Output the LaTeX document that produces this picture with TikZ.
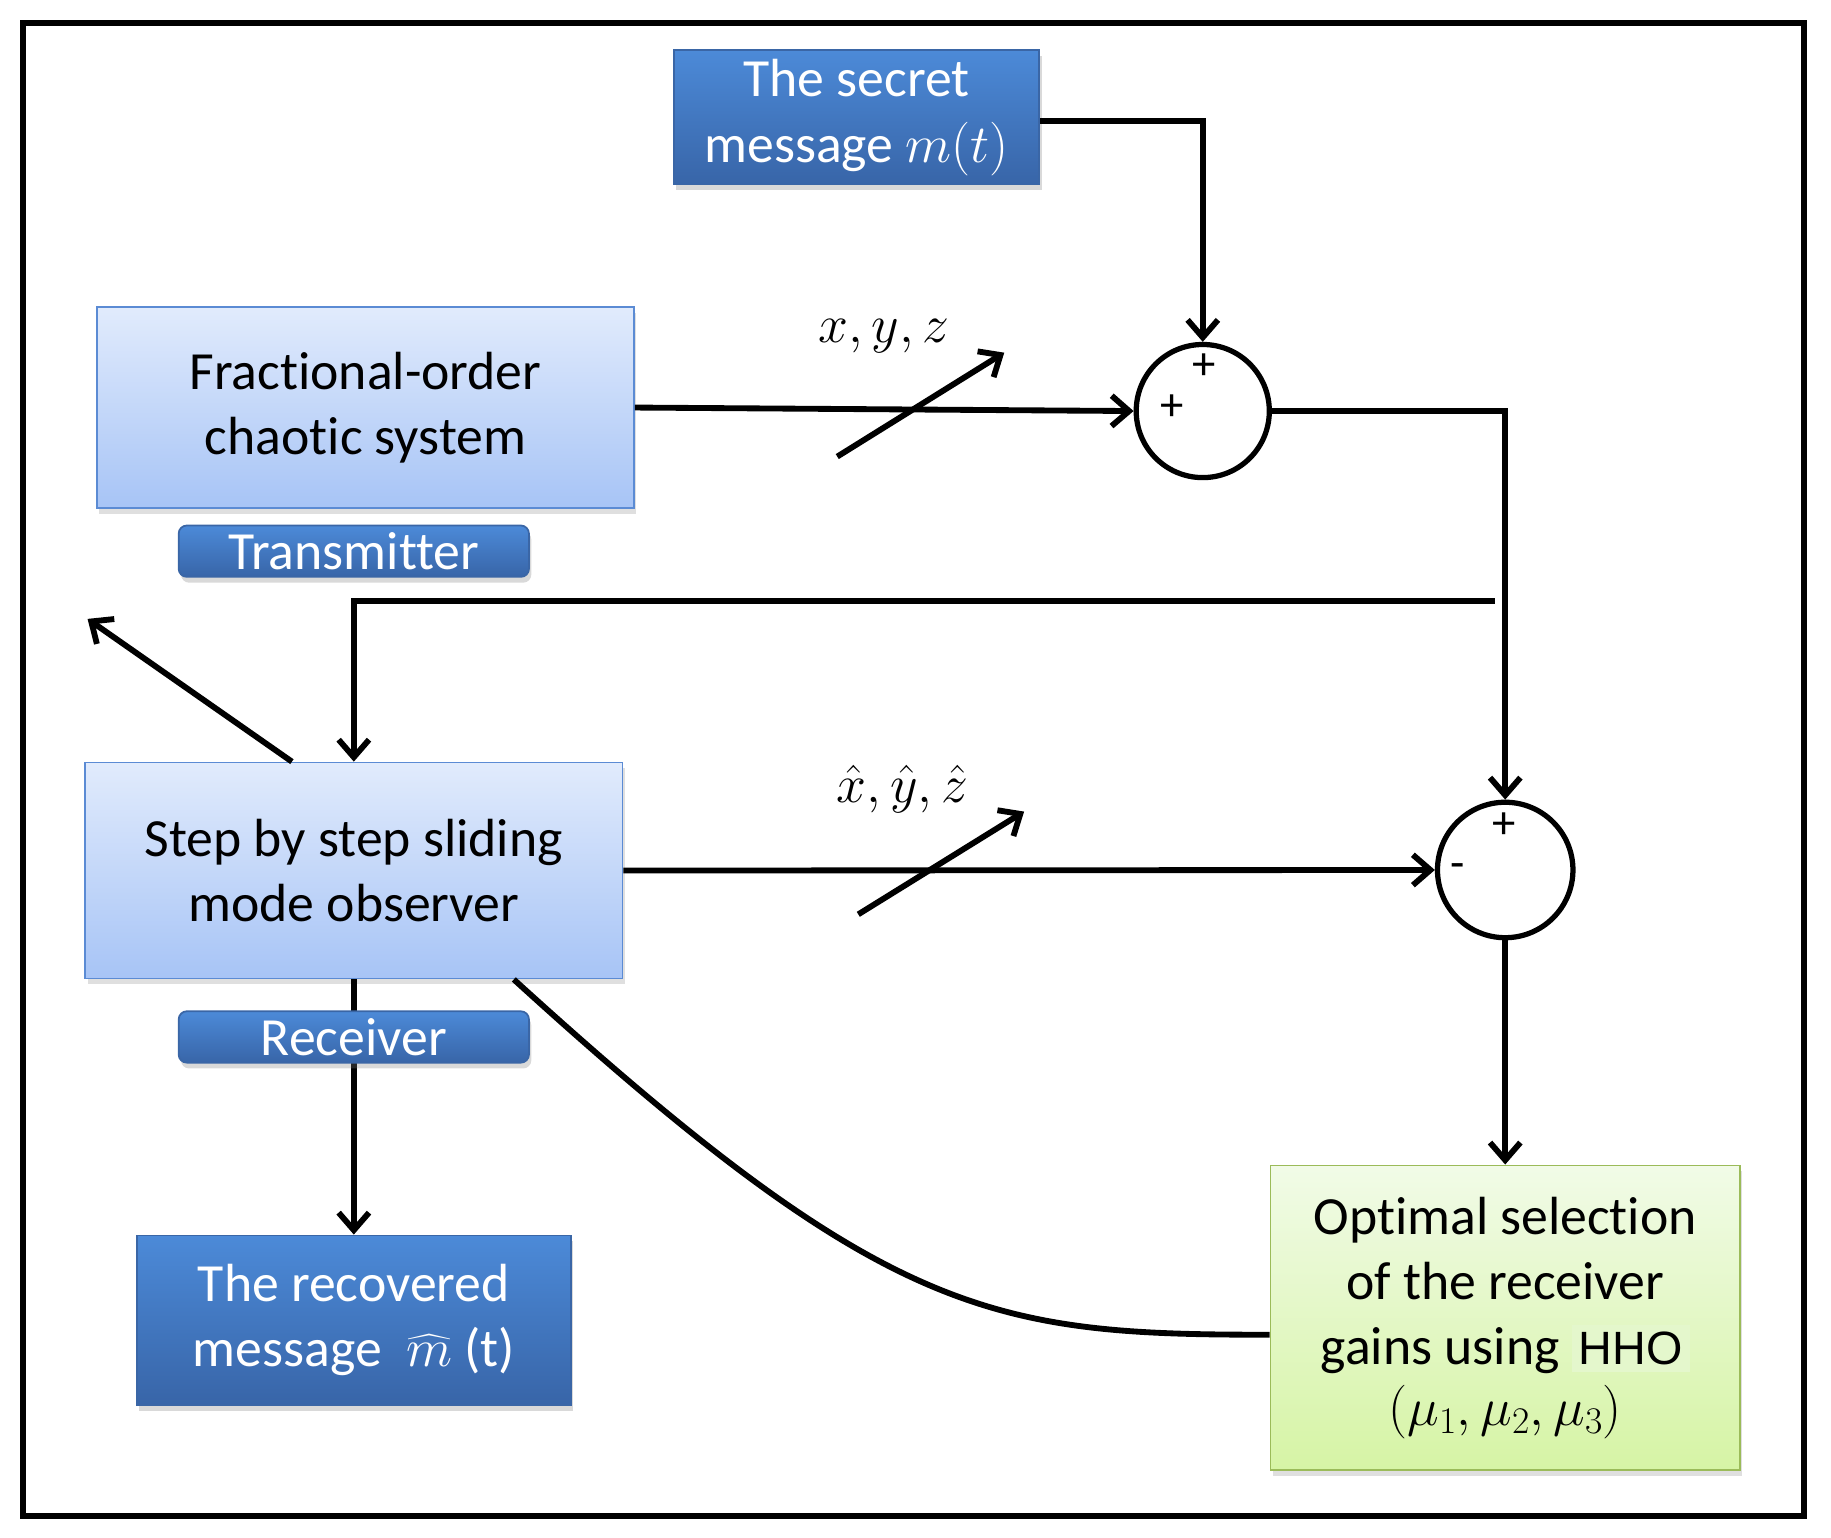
\RequirePackage{fix-cm}
\documentclass[tikz,border=0pt]{standalone}
\usepackage{exscale}
\usepackage{fontspec}
\setmainfont{Carlito}[Ligatures=NoCommon]
\newfontfamily\hhofont{Liberation Sans}
\usetikzlibrary{arrows.meta,shadows,calc}
\definecolor{dbtop}{HTML}{4C8AD8}
\definecolor{dbbot}{HTML}{3865A8}
\definecolor{dbedge}{HTML}{3A66A6}
\definecolor{lbtop}{HTML}{E1EBFC}
\definecolor{lbbot}{HTML}{A7C4F6}
\definecolor{lbedge}{HTML}{5B8BD4}
\definecolor{gntop}{HTML}{F1FBE7}
\definecolor{gnbot}{HTML}{D6F4A5}
\definecolor{gnedge}{HTML}{9BBB59}
\definecolor{hhobg}{HTML}{E4F7CC}
\begin{document}
\begin{tikzpicture}[x=1pt,y=-1pt,
  txt/.style={font=\fontsize{46}{56}\selectfont, align=center, inner sep=0pt},
  darkbox/.style={txt, rectangle, draw=dbedge, line width=1.5pt, top color=dbtop, bottom color=dbbot, text=white,
     drop shadow={opacity=0.3, shadow xshift=2pt, shadow yshift=-5pt}},
  lightbox/.style={txt, rectangle, draw=lbedge, line width=1.5pt, top color=lbtop, bottom color=lbbot, text=black,
     drop shadow={opacity=0.25, shadow xshift=2pt, shadow yshift=-5pt}},
  greenbox/.style={txt, rectangle, draw=gnedge, line width=1.5pt, top color=gntop, bottom color=gnbot, text=black,
     drop shadow={opacity=0.25, shadow xshift=2pt, shadow yshift=-5pt}},
  tab/.style={darkbox, rounded corners=7pt, minimum width=300pt, minimum height=44pt},
  sumnode/.style={circle, draw=black, line width=4.5pt, fill=white, minimum size=114pt, inner sep=0pt},
  conn/.style={line width=5pt, draw=black},
  arr/.style={conn, -{Straight Barb[length=15pt,width=26pt]}},
  sign/.style={font=\fontsize{40}{40}\selectfont, inner sep=0pt},
  mlabel/.style={font=\fontsize{46}{46}\selectfont, inner sep=0pt}
]
\useasboundingbox (0,0) rectangle (1568,1317);
% frame
\draw[line width=5pt] (20,20) rectangle (1545,1298);

% main blocks
\node[darkbox, minimum width=313pt, minimum height=115pt] (secret) at (733.5,100.5)
  {The secret\\message $m(t)$};
\node[lightbox, minimum width=460pt, minimum height=172pt] (frac) at (313,349)
  {Fractional-order\\chaotic system};
\node[lightbox, minimum width=460pt, minimum height=185pt] (step) at (303,745.5)
  {Step by step sliding\\mode observer};
\node[darkbox, minimum width=372pt, minimum height=145pt] (rec) at (303,1130.5)
  {The recovered\\message \ $\widehat{m}$ (t)};
\node[greenbox, minimum width=402pt, minimum height=261pt] (opt) at (1289,1128.5)
  {Optimal selection\\of the receiver\\gains using {\hhofont\fontsize{40}{40}\selectfont\setlength{\fboxsep}{6pt}\colorbox{hhobg}{HHO}}\\[-4pt]$(\mu_1,\mu_2,\mu_3)$};

% summing junctions
\node[sumnode] (s1) at (1030,352) {};
\node[sumnode, minimum size=116pt] (s2) at (1289,745) {};
\node[sign] (p1) at (1031,314) {+};
\node[sign] (p2) at (1004,349) {+};
\node[sign] (p3) at (1288,707) {+};
\node[sign] (m1) at (1248,746) {-};

% free coordinates
\coordinate (fb) at (1280,515);
\coordinate (up) at (75,530);
\coordinate (sa1) at (717,391);
\coordinate (sb1) at (860,302);
\coordinate (sa2) at (735,783);
\coordinate (sb2) at (877,695);

% connectors
\draw[arr] ([yshift=-3pt]secret.east) -| (s1.north);
\draw[arr] (frac.east) -- (s1.west);
\draw[arr] (s1.east) -| (s2.north);
\draw[arr] (fb) -| (step.north);
\draw[arr] ([xshift=-53pt]step.north) -- (up);
\draw[arr] (step.east) -- (s2.west);
\draw[arr] (s2.south) -- (opt.north);
\draw[arr] (step.south) -- (rec.north);
\draw[conn] ([xshift=137pt]step.south) .. controls (760,1130) and (850,1143) .. ([yshift=-14.5pt]opt.west);
\draw[arr] (sa1) -- (sb1);
\draw[arr] (sa2) -- (sb2);

% signal labels
\node[mlabel] (l1) at (757,288) {$x,y,z$};
\node[mlabel] (l2) at (773,676) {$\hat{x},\hat{y},\hat{z}$};

% tabs
\node[tab] (tx) at (303,472) {Transmitter};
\node[tab] (rx) at (303,888) {Receiver};
\end{tikzpicture}
\end{document}
